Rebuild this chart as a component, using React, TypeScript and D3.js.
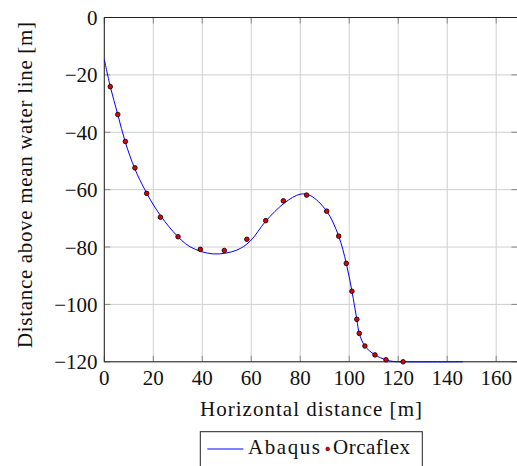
import React from 'react';
import * as d3 from 'd3';

const abaqusX = [0, 2.45, 5.5, 8.6, 12.5, 16.6, 21.4, 28.2, 35, 44.5, 54, 59.5, 65.9, 73.6, 79.9, 84, 90.8, 95.7, 98.8, 101.1, 103.1, 104.1, 106.4, 110.5, 115, 118, 122, 146.5];
const abaqusY = [-14.6, -24.1, -33.8, -43.5, -52.8, -60.1, -67.1, -74.7, -79.9, -82.4, -81.1, -78.0, -71.0, -64.6, -61.6, -62.0, -67.5, -76.2, -85.7, -95.4, -105.2, -110.1, -114.5, -117.6, -119.3, -119.9, -120, -120];

const orcaX = [2.45, 5.5, 8.6, 12.5, 17.3, 22.9, 30.1, 39.2, 49.0, 58.2, 65.9, 73.1, 82.6, 90.8, 95.7, 98.8, 101.1, 103.1, 104.1, 106.4, 110.5, 115.0, 122.0];
const orcaY = [-24.1, -33.8, -43.2, -52.4, -61.3, -69.6, -76.4, -80.8, -81.2, -77.3, -70.8, -63.9, -61.9, -67.5, -76.2, -85.7, -95.4, -105.2, -110.1, -114.5, -117.6, -119.3, -120];

const xTicks = [0, 20, 40, 60, 80, 100, 120, 140, 160];
const yTicks = [0, -20, -40, -60, -80, -100, -120];

const xLabel = 'Horizontal distance [m]';
const yLabel = 'Distance above mean water line [m]';
const seriesNames = ['Abaqus', 'Orcaflex'];

const FONT = '"Times New Roman", Times, "Liberation Serif", Tinos, "Noto Serif", "DejaVu Serif", FreeSerif, serif';

export default function App() {
  const W = 517, H = 466;
  const left = 104.3, right = 517.5, top = 17.5, bottom = 361.8;
  const x = d3.scaleLinear().domain([0, 168.7]).range([left, right]);
  const y = d3.scaleLinear().domain([-120, 0]).range([bottom, top]);

  const abaqus = abaqusX.map((v, i) => [v, abaqusY[i]] as [number, number]);
  const orca = orcaX.map((v, i) => [v, orcaY[i]] as [number, number]);

  const line = d3.line<[number, number]>()
    .x(d => x(d[0]))
    .y(d => y(d[1]))
    .curve(d3.curveCatmullRom.alpha(0.5));

  const fmt = (v: number) => (v < 0 ? '\u2212' + Math.abs(v) : String(v));
  const tickLen = 6;
  const textStyle = { fontFamily: FONT, fontSize: '21px', fill: '#111' } as React.CSSProperties;

  return (
    <svg width={W} height={H} style={{ position: 'absolute', left: 0, top: 0 }}>
      <rect x={0} y={0} width={W} height={H} fill="#fff" />
      {xTicks.map(t => (
        <line key={'gx' + t} x1={x(t)} x2={x(t)} y1={top} y2={bottom} stroke="#cfcfcf" strokeWidth={1} />
      ))}
      {yTicks.map(t => (
        <line key={'gy' + t} x1={left} x2={right} y1={y(t)} y2={y(t)} stroke="#cfcfcf" strokeWidth={1} />
      ))}
      {xTicks.map(t => (
        <g key={'tx' + t}>
          <line x1={x(t)} x2={x(t)} y1={bottom} y2={bottom - tickLen} stroke="#888" strokeWidth={1} />
          <line x1={x(t)} x2={x(t)} y1={top} y2={top + tickLen} stroke="#888" strokeWidth={1} />
        </g>
      ))}
      {yTicks.map(t => (
        <g key={'ty' + t}>
          <line x1={left} x2={left + tickLen} y1={y(t)} y2={y(t)} stroke="#888" strokeWidth={1} />
          <line x1={right} x2={right - tickLen} y1={y(t)} y2={y(t)} stroke="#888" strokeWidth={1} />
        </g>
      ))}
      <rect x={left} y={top} width={right - left} height={bottom - top} fill="none" stroke="#222" strokeWidth={1} />
      <path d={line(abaqus) || ''} fill="none" stroke="#0000ff" strokeWidth={1} />
      {orca.map((d, i) => (
        <circle key={'o' + i} cx={x(d[0])} cy={y(d[1])} r={2.3} fill="#e00000" stroke="#000" strokeWidth={0.8} />
      ))}
      {xTicks.map(t => (
        <text key={'lx' + t} x={x(t)} y={385} textAnchor="middle" style={textStyle}>{fmt(t)}</text>
      ))}
      {yTicks.map(t => (
        <text key={'ly' + t} x={97.5} y={y(t) + 7.5} textAnchor="end" style={textStyle}>{fmt(t)}</text>
      ))}
      <text x={311} y={416} textAnchor="middle" style={textStyle} textLength={222} lengthAdjust="spacing">{xLabel}</text>
      <text transform="translate(31.7,185) rotate(-90)" textAnchor="middle" style={textStyle} textLength={326} lengthAdjust="spacing">{yLabel}</text>
      <rect x={200.3} y={431.7} width={222} height={40} fill="#fff" stroke="#222" strokeWidth={1} />
      <line x1={207.3} x2={243.3} y1={449} y2={449} stroke="#0000ff" strokeWidth={1} />
      <text x={248} y={454.3} style={textStyle} textLength={72} lengthAdjust="spacing">{seriesNames[0]}</text>
      <circle cx={327.7} cy={449} r={1.9} fill="#e00000" stroke="#000" strokeWidth={0.5} />
      <text x={333} y={454.3} style={textStyle} textLength={77} lengthAdjust="spacing">{seriesNames[1]}</text>
    </svg>
  );
}
